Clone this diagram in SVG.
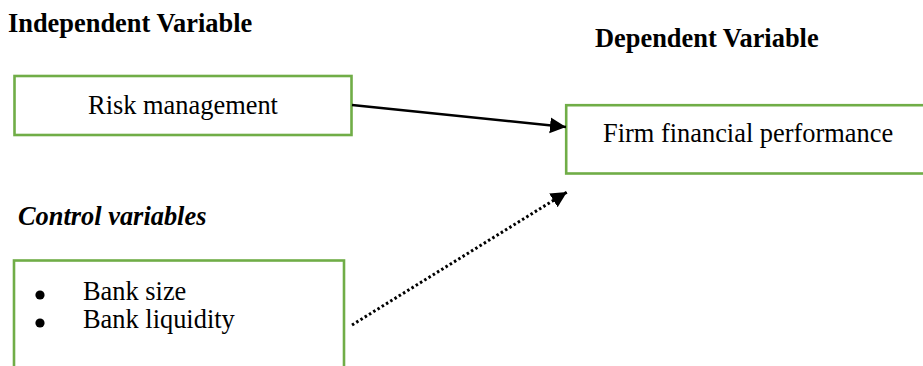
<svg xmlns="http://www.w3.org/2000/svg" width="923" height="366" viewBox="0 0 923 366">
  <style>
    text { font-family: "Liberation Serif", "Times New Roman", serif; font-size: 26.4px; fill: #000; }
    .head { font-weight: bold; }
    .headi { font-weight: bold; font-style: italic; }
    .box { fill: #fff; stroke: #70AD47; stroke-width: 2.6; }
    .link { fill: none; stroke: #000; stroke-width: 2.5; }
    .dotted { stroke-dasharray: 2.5 2.5; stroke-width: 3; }
  </style>
  <defs>
    <marker id="arrow" markerUnits="userSpaceOnUse" markerWidth="17" markerHeight="17" refX="16" refY="8" orient="auto" viewBox="0 0 17 17">
      <path d="M0,0 L16,8 L0,16 Z" fill="#000" stroke="none"/>
    </marker>
  </defs>
  <rect width="923" height="366" fill="#fff"/>

  <!-- headings -->
  <text class="head" x="8" y="32">Independent Variable</text>
  <text class="head" x="595" y="46.7">Dependent Variable</text>
  <text class="headi" x="18" y="225">Control variables</text>

  <!-- independent variable -->
  <g id="risk-management">
    <rect class="box" x="14.5" y="76" width="337" height="59"/>
    <text x="183" y="113.5" text-anchor="middle">Risk management</text>
  </g>

  <!-- dependent variable -->
  <g id="firm-performance">
    <rect class="box" x="566.2" y="105.2" width="420" height="68.3"/>
    <text x="603" y="141.7">Firm financial performance</text>
  </g>

  <!-- control variables -->
  <g id="control-variables">
    <rect class="box" x="14" y="260.5" width="330" height="140"/>
    <circle cx="40" cy="295" r="4.6" fill="#000"/>
    <circle cx="40" cy="323" r="4.6" fill="#000"/>
    <text x="83" y="300">Bank size</text>
    <text x="83" y="328.3">Bank liquidity</text>
  </g>

  <!-- connectors -->
  <g id="connectors">
    <line class="link" x1="352" y1="105" x2="566" y2="127" marker-end="url(#arrow)"/>
    <line class="link dotted" x1="352" y1="325" x2="567" y2="192" marker-end="url(#arrow)"/>
  </g>
</svg>
